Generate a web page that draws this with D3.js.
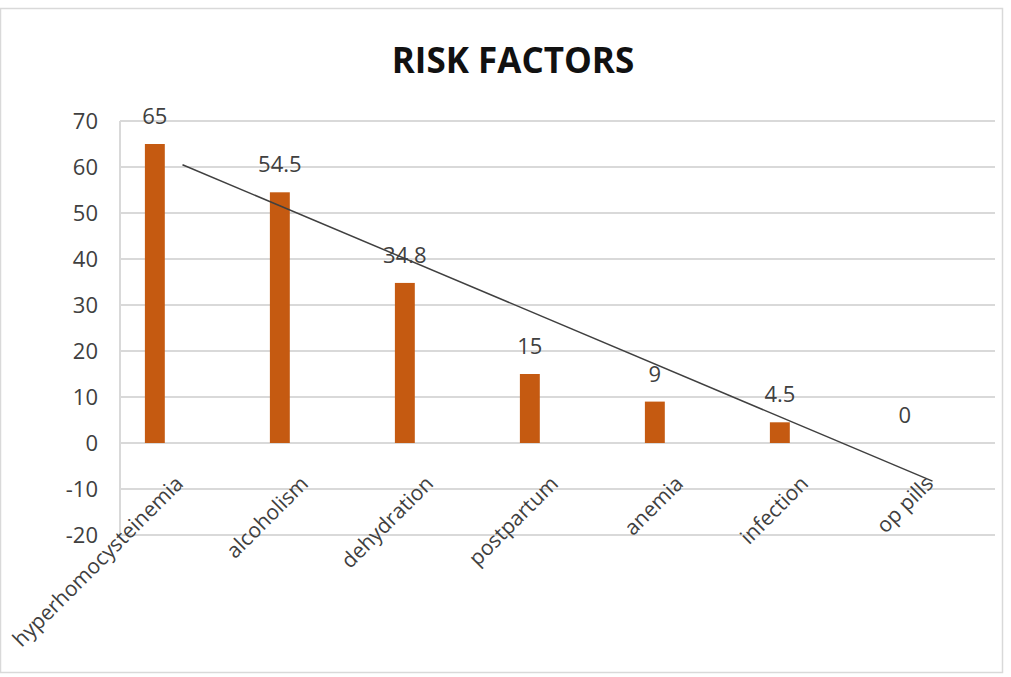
<!DOCTYPE html>
<html>
<head>
<meta charset="utf-8">
<script src="https://cdn.jsdelivr.net/npm/d3@7"></script>
<style>
  body { margin: 0; background: #fff; }
  svg { display: block; }
</style>
</head>
<body>
<svg id="chart" width="1011" height="677"></svg>
<script>
// data
var categories = ['hyperhomocysteinemia', 'alcoholism', 'dehydration', 'postpartum', 'anemia', 'infection', 'op pills'];
var values = [65, 54.5, 34.8, 15, 9, 4.5, 0];
var yTicks = [-20, -10, 0, 10, 20, 30, 40, 50, 60, 70];
// linear trend line, value at first and last category
var trendCats = ['hyperhomocysteinemia', 'op pills'];
var trendValues = [60.5, -8.3];

var svg = d3.select('#chart');
var font = "'Open Sans', 'Liberation Sans', sans-serif";

let margin = { top: 121, right: 16, bottom: 142, left: 120 };
let width = 1011;
let height = 677;
let plotWidth = width - margin.left - margin.right;
let plotHeight = height - margin.top - margin.bottom;

// outer frame
svg.append('rect')
    .attr('x', 0.5).attr('y', 8.5)
    .attr('width', 1002).attr('height', 664)
    .attr('fill', 'none')
    .attr('stroke', '#d9d9d9')
    .attr('stroke-width', 1.5);

// title
svg.append('text')
    .text('RISK FACTORS')
    .attr('x', 513)
    .attr('y', 73)
    .attr('text-anchor', 'middle')
    .style('font-family', font)
    .style('font-weight', 'bold')
    .style('font-size', '35px')
    .style('fill', '#111');

let plot = svg.append('g')
    .attr('transform', 'translate(' + margin.left + ',' + margin.top + ')');

let y = d3.scaleLinear()
    .domain([-20, 70])
    .range([plotHeight, 0]);

let x = d3.scaleBand()
    .domain(categories)
    .range([0, plotWidth]);

// two slots per category, bars sit in the first one
let xSub = d3.scaleBand()
    .domain(['risk', 'blank'])
    .range([0, x.bandwidth()])
    .paddingInner(0.64)
    .paddingOuter(0.45);

// gridlines
plot.append('g')
    .selectAll('line')
    .data(yTicks)
    .join('line')
    .attr('x1', 0)
    .attr('x2', plotWidth)
    .attr('y1', d => y(d))
    .attr('y2', d => y(d))
    .attr('stroke', '#d9d9d9')
    .attr('stroke-width', 2);

// vertical axis line
plot.append('line')
    .attr('x1', 0).attr('x2', 0)
    .attr('y1', 0).attr('y2', plotHeight)
    .attr('stroke', '#d9d9d9')
    .attr('stroke-width', 2);

// y axis labels
let yAxis = d3.axisLeft(y).tickValues(yTicks).tickSize(0).tickPadding(22).tickFormat(d => String(d));
let yGroup = plot.append('g').call(yAxis);
yGroup.select('.domain').remove();
yGroup.selectAll('text')
    .style('font-family', font)
    .style('font-size', '22px')
    .style('fill', '#404040');

// bars
plot.append('g')
    .selectAll('rect')
    .data(values)
    .join('rect')
    .attr('x', (d, i) => x(categories[i]) + xSub('risk'))
    .attr('width', xSub.bandwidth())
    .attr('y', d => y(Math.max(d, 0)))
    .attr('height', d => Math.abs(y(d) - y(0)))
    .attr('fill', '#c55a11');

// data labels
plot.append('g')
    .selectAll('text')
    .data(values)
    .join('text')
    .text(d => d)
    .attr('x', (d, i) => x(categories[i]) + xSub('risk') + xSub.bandwidth() / 2)
    .attr('y', d => y(d) - 20)
    .attr('text-anchor', 'middle')
    .style('font-family', font)
    .style('font-size', '22px')
    .style('fill', '#404040');

// trend line
let trendLine = d3.line()
    .x((d, i) => x(trendCats[i]) + x.bandwidth() / 2)
    .y(d => y(d));

plot.append('path')
    .attr('d', trendLine(trendValues))
    .attr('fill', 'none')
    .attr('stroke', '#404040')
    .attr('stroke-width', 1.5);

// x axis labels, rotated
plot.append('g')
    .selectAll('text')
    .data(categories)
    .join('text')
    .text(d => d)
    .attr('transform', d => 'translate(' + (x(d) + x.bandwidth() / 2 + 2) + ',' + (y(0) + 42) + ') rotate(-45)')
    .attr('text-anchor', 'end')
    .style('font-family', font)
    .style('font-size', '21px')
    .style('fill', '#404040');
</script>
</body>
</html>
